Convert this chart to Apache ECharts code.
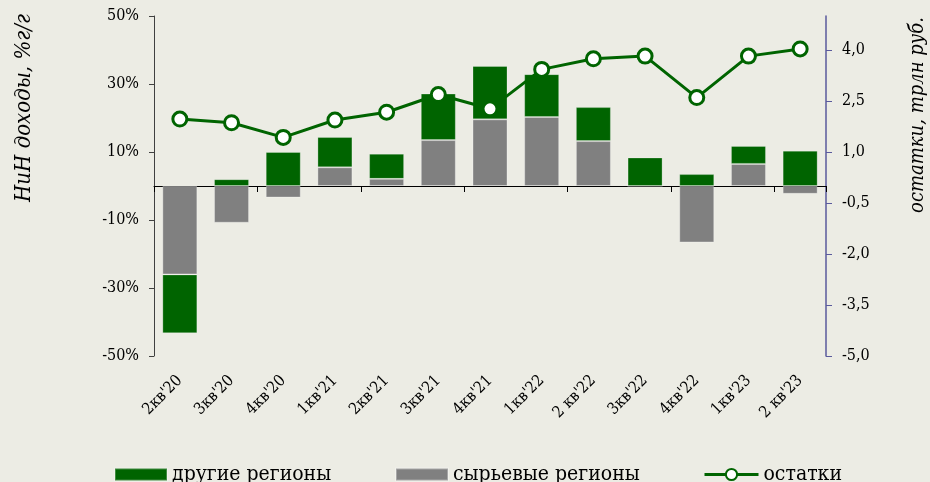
<!DOCTYPE html>
<html>
<head>
<meta charset="utf-8">
<script src="https://cdn.jsdelivr.net/npm/echarts@6/dist/echarts.min.js"></script>
<style>
  html, body { margin: 0; padding: 0; background: #ecece4; }
  #chart { width: 930px; height: 482px; }
</style>
</head>
<body>
<div id="chart"></div>
<script>
// quarters
const quarters = ["2кв'20", "3кв'20", "4кв'20", "1кв'21", "2кв'21", "3кв'21", "4кв'21",
  "1кв'22", "2 кв'22", "3кв'22", "4кв'22", "1кв'23", "2 кв'23"]

// НиН доходы, %г/г
const rawRegions = [-26, -10.8, -3.4, 5.5, 2.1, 13.5, 19.6, 20.3, 13.2, 0, -16.6, 6.5, -2.3]
const otherRegions = [-17.3, 2.0, 10.0, 8.9, 7.4, 13.7, 15.7, 12.6, 10.0, 8.4, 3.5, 5.3, 10.4]

// остатки, трлн руб.
const balances = [1.97, 1.86, 1.43, 1.94, 2.17, 2.69, 2.27, 3.43, 3.74, 3.82, 2.60, 3.82, 4.03]

const leftTicks = [-50, -30, -10, 10, 30, 50]
const rightTicks = [-5, -3.5, -2, -0.5, 1, 2.5, 4]

const GREEN = '#006400'
const GRAY = '#808080'
const FONT = 'DejaVu Serif Condensed'

const chart = echarts.init(document.getElementById('chart'))

const legendText = { fontFamily: FONT, fontSize: 21, color: '#000' }

chart.setOption({
  animation: false,
  backgroundColor: '#ecece4',
  textStyle: { fontFamily: FONT },
  grid: { left: 154, right: 104, top: 16, bottom: 126, containLabel: false },
  legend: [
    { data: [{ name: 'другие регионы', icon: 'rect' }], left: 114, top: 464, padding: 0, itemWidth: 52, itemHeight: 12, itemGap: 6, textStyle: legendText },
    { data: [{ name: 'сырьевые регионы', icon: 'rect' }], left: 395, top: 464, padding: 0, itemWidth: 52, itemHeight: 12, itemGap: 6, textStyle: legendText },
    {
      data: ['остатки'], left: 703, top: 464, padding: 0, itemWidth: 54, itemHeight: 14, itemGap: 5,
      lineStyle: { width: 3 }, textStyle: legendText,
    },
  ],
  graphic: [
    {
      type: 'text', x: 24, y: 108, rotation: Math.PI / 2,
      style: { text: 'НиН доходы, %г/г', fontFamily: FONT, fontStyle: 'italic', fontSize: 22, fill: '#000', align: 'center', verticalAlign: 'middle' },
    },
    {
      type: 'text', x: 918, y: 115, rotation: Math.PI / 2,
      style: { text: 'остатки, трлн руб.', fontFamily: FONT, fontStyle: 'italic', fontSize: 20, fill: '#000', align: 'center', verticalAlign: 'middle' },
    },
  ],
  xAxis: [
    {
      type: 'category',
      data: quarters,
      boundaryGap: true,
      axisLine: { onZero: true, lineStyle: { color: '#000', width: 1 } },
      axisTick: { show: true, length: 6, lineStyle: { color: '#000' } },
      axisLabel: { show: false },
      splitLine: { show: false },
    },
    {
      type: 'category',
      data: quarters,
      position: 'bottom',
      boundaryGap: true,
      axisLine: { show: false, onZero: false },
      axisTick: { show: false },
      axisLabel: { rotate: 45, margin: 22, fontFamily: FONT, fontSize: 16, color: '#000', interval: 0 },
      splitLine: { show: false },
    },
  ],
  yAxis: [
    {
      type: 'value',
      min: -50,
      max: 50,
      interval: 20,
      axisLine: { show: true, lineStyle: { color: '#404040', width: 1 } },
      axisTick: { show: true, length: 5, customValues: leftTicks, lineStyle: { color: '#404040' } },
      axisLabel: { margin: 15, customValues: leftTicks, fontFamily: FONT, fontSize: 16, color: '#000', formatter: (v) => v + '%' },
      splitLine: { show: false },
    },
    {
      type: 'value',
      position: 'right',
      min: -5,
      max: 5,
      interval: 1.5,
      axisLine: { show: true, lineStyle: { color: '#5a5a9c', width: 1.5 } },
      axisTick: { show: true, length: 6, customValues: rightTicks, lineStyle: { color: '#5a5a9c' } },
      axisLabel: {
        margin: 16, customValues: rightTicks, fontFamily: FONT, fontSize: 16, color: '#000',
        formatter: (v) => (v >= 5 ? '' : v.toFixed(1).replace('.', ',')),
      },
      splitLine: { show: false },
    },
  ],
  series: [
    {
      name: 'сырьевые регионы',
      type: 'bar',
      stack: 'income',
      barWidth: 35,
      data: rawRegions,
      itemStyle: { color: GRAY, borderColor: 'rgba(255,255,255,0.3)', borderWidth: 1 },
    },
    {
      name: 'другие регионы',
      type: 'bar',
      stack: 'income',
      barWidth: 35,
      data: otherRegions,
      itemStyle: { color: GREEN, borderColor: 'rgba(255,255,255,0.25)', borderWidth: 1 },
    },
    {
      name: 'остатки',
      type: 'line',
      yAxisIndex: 1,
      z: 5,
      symbol: 'circle',
      symbolSize: 14,
      lineStyle: { color: GREEN, width: 3 },
      itemStyle: { color: '#fff', borderColor: GREEN, borderWidth: 3 },
      data: balances.map((v, i) => (i === 6
        ? { value: v, symbolSize: 11, itemStyle: { borderWidth: 0 } }
        : v)),
    },
  ],
})
</script>
</body>
</html>
